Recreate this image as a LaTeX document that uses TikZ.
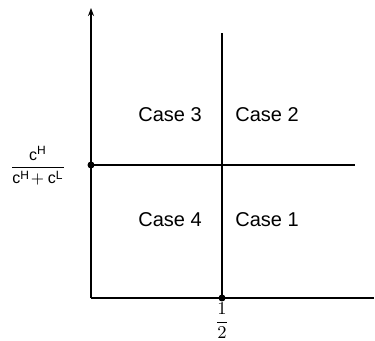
\documentclass[tikz,border=0pt]{standalone}
\usepackage{amsmath}
\usepackage{fontspec}
\setmainfont{Liberation Sans}
\usepackage{tikz}
\usetikzlibrary{positioning, arrows.meta}

\begin{document}
\begin{tikzpicture}[
  x=0.5pt, y=-0.5pt,
  font=\normalsize,
  axis/.style={line width=1pt, black},
  split/.style={line width=1pt, black},
  pt/.style={circle, fill=black, inner sep=0pt, minimum size=3.5pt},
  casebox/.style={inner sep=0pt},
  >=Stealth
]
\useasboundingbox (0,0) rectangle (375,341);

% axes
\coordinate (O) at (91,298);
\coordinate (ytop) at (91,8);
\coordinate (xend) at (374,298);
\draw[axis, -{Stealth[length=4pt, width=3pt]}] (O) -- (ytop);
\draw[axis] (O) -- (xend);

% threshold lines
\node[pt] (half) at (222,298) {};
\node[pt] (lev) at (91,165) {};
\coordinate (vtop) at (222,33);
\coordinate (hend) at (355,165);
\draw[split] (half.center) -- (vtop);
\draw[split] (lev.center) -- (hend);

% tick labels
\node[font=\small] (lblhalf) at (222,321) {$\dfrac{1}{2}$};
\node[font=\footnotesize] (lbllev) at (38,166) {$\dfrac{\text{c}^{\text{H}}}{\text{c}^{\text{H}}\!+\text{c}^{\text{L}}}$};

% regions
\node[casebox] (c3) at (170,115) {Case 3};
\node[casebox] (c2) at (267,115) {Case 2};
\node[casebox] (c4) at (170,220) {Case 4};
\node[casebox] (c1) at (267,220) {Case 1};

\end{tikzpicture}
\end{document}
